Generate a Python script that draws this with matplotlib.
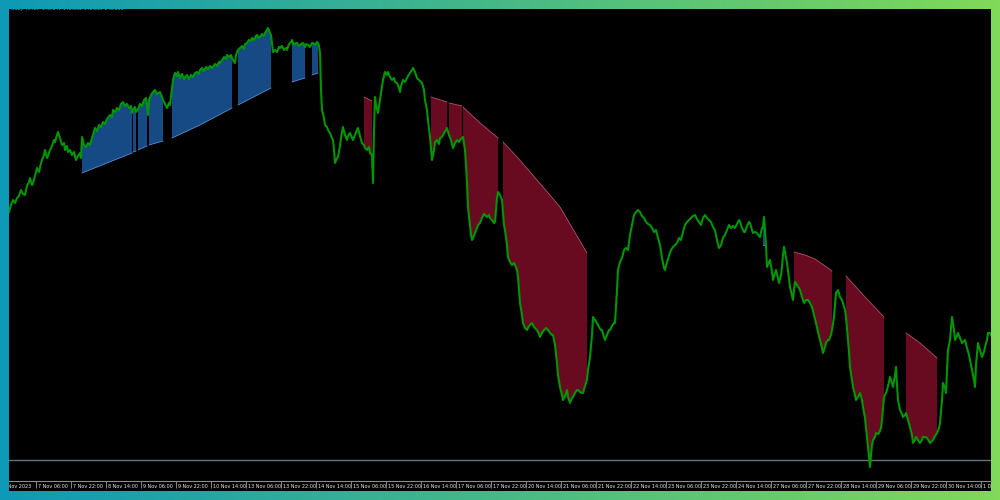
import numpy as np
import matplotlib
matplotlib.use('Agg')
import matplotlib.pyplot as plt
from matplotlib.patches import Rectangle

# USDJPY M15 - bar number (weekends skipped) and close
bars = [0, 2, 4, 6, 8, 10, 12, 14, 16, 18, 20, 21, 23, 24, 26, 28, 30, 32, 33, 35,
        36, 38, 39, 41, 43, 45, 46, 48, 49, 51, 53, 55, 56, 58, 59, 61, 63, 65, 67, 69,
        71, 72, 73, 75, 77, 79, 81, 83, 86, 88, 90, 92, 94, 96, 98, 101, 103, 104, 106, 108,
        110, 112, 114, 116, 118, 120, 122, 123, 124, 126, 127, 129, 131, 133, 135, 137, 138, 139, 140, 142,
        144, 146, 148, 151, 153, 154, 156, 158, 160, 161, 163, 164, 166, 168, 169, 171, 173, 175, 177, 178,
        180, 182, 184, 186, 188, 190, 191, 193, 195, 197, 199, 201, 203, 204, 206, 208, 210, 211, 213, 215,
        217, 218, 220, 222, 223, 225, 226, 227, 229, 231, 233, 235, 236, 238, 240, 242, 243, 245, 247, 248,
        250, 251, 253, 255, 256, 258, 259, 261, 262, 263, 264, 266, 268, 270, 271, 273, 275, 277, 278, 280,
        282, 283, 285, 287, 288, 290, 292, 294, 296, 297, 299, 301, 303, 304, 306, 308, 309, 310, 311, 312,
        313, 315, 316, 318, 319, 321, 323, 324, 325, 326, 328, 329, 331, 332, 334, 336, 338, 339, 341, 343,
        344, 346, 348, 349, 351, 353, 355, 356, 358, 360, 361, 363, 364, 365, 366, 367, 369, 371, 373, 374,
        376, 378, 379, 381, 383, 385, 386, 388, 390, 391, 392, 394, 396, 398, 399, 401, 403, 404, 406, 408,
        410, 413, 415, 416, 418, 419, 421, 422, 423, 425, 426, 428, 430, 431, 433, 435, 437, 438, 440, 442,
        444, 446, 448, 450, 451, 453, 454, 456, 457, 458, 459, 461, 462, 463, 464, 466, 468, 469, 471, 473,
        475, 476, 478, 480, 481, 483, 485, 486, 487, 488, 489, 491, 493, 494, 495, 496, 498, 499, 501, 503,
        505, 506, 508, 509, 510, 511, 513, 514, 516, 518, 520, 521, 523, 525, 527, 528, 530, 531, 533, 535,
        537, 539, 541, 543, 544, 546, 548, 549, 551, 553, 554, 556, 558, 559, 561, 563, 564, 566, 568, 569,
        571, 573, 574, 576, 578, 579, 581, 583, 584, 586, 588, 590, 592, 593, 595, 596, 598, 600, 601, 603,
        605, 606, 608, 609, 611, 613, 615, 617, 619, 621, 623, 625, 627, 629, 631, 633, 635, 637, 639, 641,
        643, 645, 647, 649, 651, 653, 655, 656, 658, 660, 662, 664, 666, 668, 670, 672, 674, 676, 678, 680,
        682, 684, 686, 688, 690, 692, 694, 696, 698, 700, 702, 704, 706, 708, 710, 712, 714, 716, 718, 720,
        722, 724, 726, 728, 730, 731, 733, 735, 736, 738, 740, 741, 743, 744, 746, 748, 750, 751, 753, 754,
        755, 756, 757, 758, 760, 761, 763, 764, 766, 767, 769, 770, 772, 773, 774, 775, 777, 778, 780, 781,
        783, 784, 785, 786, 788, 790, 791, 793, 795, 797, 799, 801, 803, 805, 807, 809, 811, 813, 814, 816,
        817, 819, 820, 822, 823, 825, 826, 827, 829, 831, 833, 834, 836, 837, 838, 839, 840, 841, 843, 844,
        846, 847, 849, 851, 853, 854, 856, 857, 858, 859, 860, 861, 862, 863, 864, 866, 867, 869, 870, 872,
        873, 874, 875, 877, 878, 880, 881, 883, 884, 886, 887, 888, 889, 890, 891, 893, 894, 896, 897, 899,
        901, 903, 904, 906, 907, 909, 911, 913, 914, 916, 918, 920, 921, 923, 924, 926, 928, 930, 931, 933,
        934, 936, 937, 938, 939, 940, 941, 942, 943, 945, 946, 948, 949, 951, 953, 955, 956, 958, 960, 961,
        963, 965, 966, 967, 969, 971, 973, 975, 976, 978, 979, 981, 982]
close = [150.08, 150.15, 150.20, 150.17, 150.22, 150.24, 150.30, 150.26, 150.25, 150.34,
         150.38, 150.42, 150.35, 150.37, 150.44, 150.52, 150.48, 150.57, 150.60, 150.65,
         150.70, 150.62, 150.64, 150.70, 150.74, 150.80, 150.78, 150.85, 150.88, 150.82,
         150.75, 150.77, 150.70, 150.74, 150.68, 150.70, 150.65, 150.68, 150.60, 150.64,
         150.67, 150.62, 150.83, 150.75, 150.73, 150.77, 150.75, 150.82, 150.92, 150.89,
         150.95, 150.93, 150.98, 150.96, 151.01, 151.05, 151.03, 151.10, 151.08, 151.12,
         151.10, 151.16, 151.18, 151.14, 151.16, 151.12, 151.14, 151.07, 151.10, 151.13,
         151.08, 151.11, 151.16, 151.14, 151.20, 151.22, 151.14, 151.05, 151.20, 151.25,
         151.28, 151.30, 151.26, 151.28, 151.23, 151.20, 151.16, 151.12, 151.17, 151.15,
         151.32, 151.40, 151.47, 151.44, 151.48, 151.42, 151.46, 151.41, 151.44, 151.45,
         151.41, 151.45, 151.43, 151.47, 151.48, 151.46, 151.50, 151.52, 151.49, 151.53,
         151.51, 151.54, 151.52, 151.53, 151.56, 151.54, 151.58, 151.57, 151.60, 151.63,
         151.61, 151.65, 151.63, 151.65, 151.62, 151.58, 151.57, 151.65, 151.70, 151.72,
         151.74, 151.71, 151.76, 151.77, 151.80, 151.79, 151.82, 151.80, 151.84, 151.85,
         151.82, 151.83, 151.86, 151.84, 151.87, 151.90, 151.92, 151.87, 151.85, 151.76,
         151.68, 151.70, 151.68, 151.73, 151.72, 151.74, 151.70, 151.72, 151.70, 151.76,
         151.78, 151.80, 151.75, 151.77, 151.77, 151.74, 151.76, 151.77, 151.73, 151.76,
         151.75, 151.73, 151.77, 151.77, 151.75, 151.78, 151.77, 151.74, 151.67, 151.30,
         151.10, 151.02, 150.95, 150.93, 150.90, 150.87, 150.82, 150.80, 150.70, 150.57,
         150.62, 150.63, 150.74, 150.82, 150.93, 150.85, 150.80, 150.84, 150.87, 150.82,
         150.80, 150.85, 150.90, 150.92, 150.84, 150.77, 150.75, 150.72, 150.70, 150.73,
         150.67, 150.65, 150.37, 150.90, 151.23, 151.15, 151.07, 151.20, 151.33, 151.40,
         151.48, 151.45, 151.48, 151.43, 151.40, 151.42, 151.38, 151.37, 151.32, 151.28,
         151.34, 151.40, 151.38, 151.42, 151.44, 151.47, 151.50, 151.52, 151.48, 151.42,
         151.40, 151.37, 151.30, 151.20, 151.10, 151.00, 150.83, 150.72, 150.60, 150.70,
         150.78, 150.80, 150.76, 150.82, 150.83, 150.87, 150.90, 150.92, 150.85, 150.80,
         150.72, 150.77, 150.80, 150.78, 150.80, 150.82, 150.83, 150.70, 150.55, 150.37,
         150.13, 149.95, 149.85, 149.80, 149.82, 149.87, 149.92, 149.95, 149.97, 150.02,
         150.06, 150.05, 150.03, 150.05, 150.02, 150.00, 149.97, 149.98, 150.10, 150.22,
         150.28, 150.25, 150.20, 150.08, 149.95, 149.90, 149.75, 149.63, 149.58, 149.55,
         149.57, 149.55, 149.50, 149.43, 149.30, 149.17, 149.05, 148.97, 148.92, 148.90,
         148.94, 148.95, 148.97, 148.93, 148.91, 148.90, 148.86, 148.83, 148.87, 148.90,
         148.92, 148.90, 148.87, 148.85, 148.85, 148.75, 148.57, 148.45, 148.33, 148.25,
         148.20, 148.24, 148.30, 148.23, 148.17, 148.22, 148.23, 148.27, 148.30, 148.30,
         148.28, 148.27, 148.27, 148.34, 148.40, 148.50, 148.63, 148.85, 149.03, 149.00,
         148.97, 148.93, 148.90, 148.90, 148.83, 148.80, 148.85, 148.90, 148.90, 148.94,
         148.97, 148.97, 149.30, 149.50, 149.58, 149.62, 149.70, 149.72, 149.70, 149.85,
         149.95, 150.05, 150.08, 150.10, 150.08, 150.04, 150.02, 149.98, 149.96, 149.95,
         149.92, 149.88, 149.90, 149.82, 149.75, 149.62, 149.52, 149.50, 149.58, 149.64,
         149.70, 149.73, 149.75, 149.77, 149.82, 149.80, 149.88, 149.95, 149.98, 150.00,
         150.02, 150.04, 150.05, 150.01, 149.98, 149.95, 150.02, 150.05, 150.02, 150.00,
         149.98, 149.93, 149.90, 149.80, 149.72, 149.75, 149.82, 149.85, 149.90, 149.95,
         149.92, 149.94, 149.92, 149.96, 150.00, 149.98, 149.92, 149.88, 149.88, 149.94,
         149.98, 149.97, 149.90, 149.87, 149.88, 149.87, 149.84, 149.83, 149.92, 149.93,
         150.03, 149.90, 149.75, 149.53, 149.58, 149.60, 149.48, 149.40, 149.47, 149.50,
         149.42, 149.37, 149.45, 149.53, 149.65, 149.73, 149.62, 149.57, 149.42, 149.33,
         149.24, 149.20, 149.30, 149.38, 149.35, 149.32, 149.30, 149.23, 149.17, 149.20,
         149.20, 149.17, 149.13, 149.05, 148.97, 148.88, 148.80, 148.72, 148.67, 148.73,
         148.77, 148.80, 148.80, 148.85, 148.90, 149.03, 149.15, 149.27, 149.30, 149.23,
         149.20, 149.17, 149.10, 149.03, 148.92, 148.80, 148.68, 148.53, 148.40, 148.33,
         148.25, 148.20, 148.23, 148.27, 148.20, 148.13, 148.02, 147.93, 147.83, 147.73,
         147.62, 147.53, 147.65, 147.75, 147.80, 147.83, 147.87, 147.86, 147.87, 147.92,
         148.00, 148.12, 148.23, 148.27, 148.30, 148.38, 148.43, 148.37, 148.33, 148.45,
         148.53, 148.35, 148.20, 148.15, 148.10, 148.06, 148.03, 148.05, 148.07, 148.00,
         147.93, 147.85, 147.77, 147.80, 147.83, 147.80, 147.77, 147.80, 147.83, 147.83,
         147.82, 147.79, 147.77, 147.79, 147.80, 147.84, 147.87, 147.92, 147.97, 148.20,
         148.37, 148.32, 148.27, 148.50, 148.70, 148.75, 148.80, 148.92, 149.03, 148.90,
         148.80, 148.84, 148.87, 148.82, 148.77, 148.79, 148.80, 148.72, 148.65, 148.60,
         148.50, 148.40, 148.33, 148.55, 148.77, 148.70, 148.63, 148.68, 148.73, 148.80,
         148.87, 148.87, 148.85]

# trailing stop of the indicator while long (blue) / short (red): (bar, level)
blue_stops = [
    [(73, 150.47), (123, 150.67)],
    [(124, 150.68), (127, 150.69)],
    [(129, 150.70), (138, 150.74)],
    [(140, 150.75), (154, 150.79)],
    [(163, 150.82), (191, 150.95), (223, 151.12)],
    [(229, 151.15), (262, 151.32)],
    [(283, 151.38), (296, 151.42)],
    [(303, 151.45), (309, 151.47)],
    [(754, 149.75), (756, 149.75)],
]
red_stops = [
    [(355, 151.23), (363, 151.19)],
    [(422, 151.23), (438, 151.18)],
    [(440, 151.17), (453, 151.14)],
    [(454, 151.13), (471, 150.97), (489, 150.82)],
    [(494, 150.78), (509, 150.62), (534, 150.33), (551, 150.13), (578, 149.67)],
    [(785, 149.68), (796, 149.65), (806, 149.61), (823, 149.49)],
    [(837, 149.44), (856, 149.23), (875, 149.03)],
    [(897, 148.87), (911, 148.77), (928, 148.62)],
]
level_line = 147.60

time_labels = ["6 Nov 2023", "7 Nov 06:00", "7 Nov 22:00", "8 Nov 14:00", "9 Nov 06:00",
               "9 Nov 22:00", "10 Nov 14:00", "13 Nov 06:00", "13 Nov 22:00", "14 Nov 14:00",
               "15 Nov 06:00", "15 Nov 22:00", "16 Nov 14:00", "17 Nov 06:00", "17 Nov 22:00",
               "20 Nov 14:00", "21 Nov 06:00", "21 Nov 22:00", "22 Nov 14:00", "23 Nov 06:00",
               "23 Nov 22:00", "24 Nov 14:00", "27 Nov 06:00", "27 Nov 22:00", "28 Nov 14:00",
               "29 Nov 06:00", "29 Nov 22:00", "30 Nov 14:00", "1 Dec 06:00"]
label_bars = [-8 + 35 * i for i in range(len(time_labels))]

fig = plt.figure(figsize=(10, 5), dpi=100)

# gradient frame + black chart window
bg = fig.add_axes([0, 0, 1, 1])
c0 = np.array([14, 153, 182]) / 255
c1 = np.array([128, 217, 88]) / 255
t = np.linspace(0, 1, 256)
grad = c0[None, :] * (1 - t[:, None]) + c1[None, :] * t[:, None]
bg.imshow(grad[None, :, :], aspect='auto', extent=[0, 1, 0, 1], zorder=0)
bg.add_patch(Rectangle((0.009, 0.018), 0.982, 0.964, transform=bg.transAxes,
                       facecolor='black', edgecolor='none', zorder=1))
bg.set_xlim(0, 1)
bg.set_ylim(0, 1)
bg.axis('off')
clip_rect = Rectangle((0.009, 0.018), 0.982, 0.964, transform=fig.transFigure)

ax = fig.add_axes([0.009, 0.038, 0.982, 0.944])
ax.set_facecolor('black')


def band(stop, color, edge):
    xs = [p[0] for p in stop]
    ys = [p[1] for p in stop]
    px = [b for b in bars if xs[0] <= b <= xs[-1]]
    py = [c for b, c in zip(bars, close) if xs[0] <= b <= xs[-1]]
    ax.fill(px + xs[::-1], py + ys[::-1], color=color, lw=0, zorder=2)
    ax.plot(xs, ys, color=edge, lw=0.6, zorder=2.5)


for s in blue_stops:
    band(s, '#164a84', '#5c8cc8')
for s in red_stops:
    band(s, '#690b20', '#a8566c')

ax.plot(bars, close, color='#009600', lw=1.5, zorder=3)
ax.axhline(level_line, color='#66717e', lw=1.0, zorder=1)

ax.set_xlim(0, 982)
ax.set_ylim(147.39, 152.11)
ax.set_yticks([])
for side in ['top', 'left', 'right']:
    ax.spines[side].set_visible(False)
ax.spines['bottom'].set_color('#8c8c8c')
ax.spines['bottom'].set_linewidth(0.8)
ax.set_xticks([b for b in label_bars if b >= 0])
ax.set_xticklabels([])
ax.tick_params(axis='x', direction='out', length=5, width=0.6, color='#9a9a9a')

for b, lab in zip(label_bars, time_labels):
    tx = ax.annotate(lab, xy=(b, 0), xycoords=('data', 'axes fraction'),
                     xytext=(2, -5.5), textcoords='offset pixels',
                     ha='left', va='center', fontsize=3.5, color='#e6e6e6',
                     annotation_clip=False)
    tx.set_clip_on(True)
    tx.set_clip_path(clip_rect)

hdr = ax.annotate("USDJPY,M15  148.847 148.862 148.839 148.851",
                  xy=(0, 1), xycoords='axes fraction', xytext=(2, 0.5),
                  textcoords='offset pixels', ha='left', va='center',
                  fontsize=3.3, color='#a0a0a0', annotation_clip=False)
hdr.set_clip_on(True)
hdr.set_clip_path(clip_rect)

fig.savefig('out.png', dpi=100, facecolor='black')
